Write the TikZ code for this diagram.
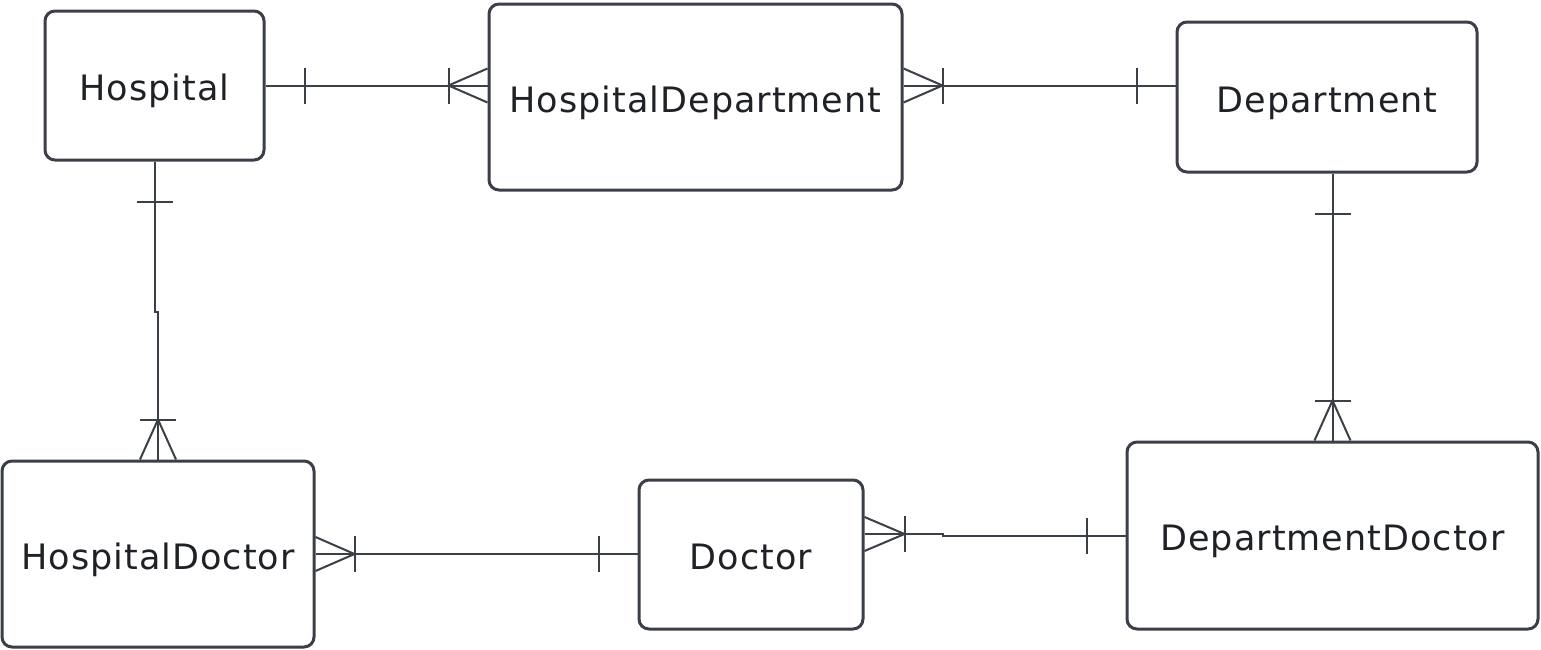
\documentclass[tikz,border=0pt]{standalone}
\usepackage{fontspec}
\setmainfont{DejaVu Sans}[LetterSpace=2.9]
\usetikzlibrary{calc}
\definecolor{edge}{HTML}{3A3F48}
\definecolor{ink}{HTML}{1E2227}
% crow's foot (many) and single bar (one) marks at a connector end
\newcommand\crowfootH[2]{%
  \draw[conn] ($(#1)+(0,-17)$) -- ($(#1)+(#2,0)$) -- ($(#1)+(0,17)$);
  \draw[conn] ($(#1)+(#2,-18)$) -- ($(#1)+(#2,18)$);}
\newcommand\crowfootV[2]{%
  \draw[conn] ($(#1)+(-18,0)$) -- ($(#1)+(0,#2)$) -- ($(#1)+(18,0)$);
  \draw[conn] ($(#1)+(-18,#2)$) -- ($(#1)+(18,#2)$);}
\newcommand\onebarH[2]{\draw[conn] ($(#1)+(#2,-18)$) -- ($(#1)+(#2,18)$);}
\newcommand\onebarV[2]{\draw[conn] ($(#1)+(-18,#2)$) -- ($(#1)+(18,#2)$);}
\begin{document}
\begin{tikzpicture}[x=1pt,y=-1pt,
  entity/.style={draw=edge,line width=3pt,rounded corners=10pt,fill=white,
    inner sep=0pt,text=ink,font=\fontsize{35}{42}\selectfont,
    text height=30pt,text depth=0pt},
  conn/.style={draw=edge,line width=2pt}]
\useasboundingbox (0,0) rectangle (1541,649);
\fill[white] (0,0) rectangle (1541,649);

\node[entity,minimum width=219,minimum height=149] (hosp) at (154.5,85.5) {Hospital};
\node[entity,minimum width=413,minimum height=186] (hdep) at (695.5,97) {HospitalDepartment};
\node[entity,minimum width=300,minimum height=150] (dept) at (1327,97) {Department};
\node[entity,minimum width=312,minimum height=186] (hdoc) at (158,554) {HospitalDoctor};
\node[entity,minimum width=224,minimum height=149] (doc) at (751,554.5) {Doctor};
\node[entity,minimum width=411,minimum height=187] (ddoc) at (1332.5,535.5) {DepartmentDoctor};

% Hospital -- HospitalDepartment
\coordinate (a1) at (hosp.east);
\coordinate (b1) at (a1 -| hdep.west);
\draw[conn] (a1) -- (b1);
\onebarH{a1}{39}
\crowfootH{b1}{-39}

% HospitalDepartment -- Department
\coordinate (a2) at (a1 -| hdep.east);
\coordinate (b2) at (a1 -| dept.west);
\draw[conn] (a2) -- (b2);
\crowfootH{a2}{39}
\onebarH{b2}{-39}

% Hospital -- HospitalDoctor
\coordinate (a3) at (hosp.south);
\draw[conn] (a3) -- ++(0,150) -| (hdoc.north);
\onebarV{a3}{40}
\crowfootV{hdoc.north}{-40}

% Department -- DepartmentDoctor
\coordinate (a4) at (ddoc.north |- dept.south);
\draw[conn] (a4) -- (ddoc.north);
\onebarV{a4}{40}
\crowfootV{ddoc.north}{-40}

% HospitalDoctor -- Doctor
\coordinate (a5) at (hdoc.east);
\coordinate (b5) at (a5 -| doc.west);
\draw[conn] (a5) -- (b5);
\crowfootH{a5}{39}
\onebarH{b5}{-39}

% Doctor -- DepartmentDoctor
\coordinate (a6) at ($(doc.east)+(0,-20.5)$);
\draw[conn] (a6) -- ++(78,0) |- (ddoc.west);
\crowfootH{a6}{40}
\onebarH{ddoc.west}{-39}
\end{tikzpicture}
\end{document}
